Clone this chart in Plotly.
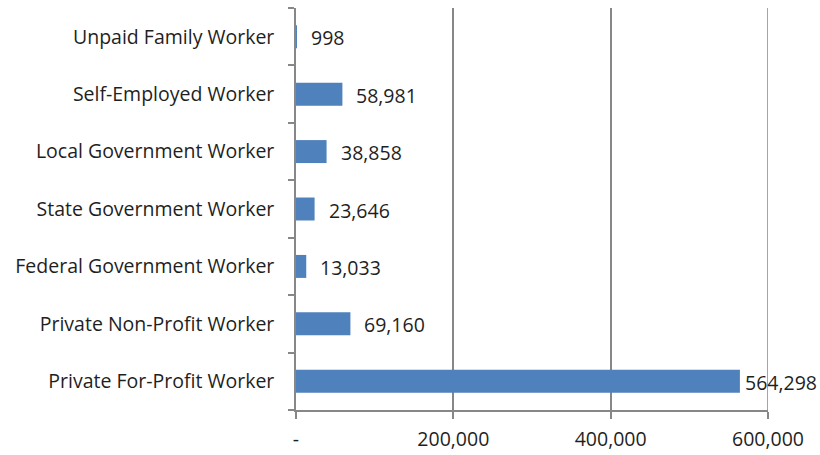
import plotly.graph_objects as go

categories = [
    "Private For-Profit Worker",
    "Private Non-Profit Worker",
    "Federal Government Worker",
    "State Government Worker",
    "Local Government Worker",
    "Self-Employed Worker",
    "Unpaid Family Worker",
]
values = [564298, 69160, 13033, 23646, 38858, 58981, 998]
x_tickvals = [0, 200000, 400000, 600000]
x_ticktext = ["-", "200,000", "400,000", "600,000"]

FONT = "Open Sans"
FS = 19.5
GRID = "#878787"
X_MAX = 600000

fig = go.Figure()
fig.add_trace(go.Bar(
    y=categories, x=values, orientation="h",
    marker=dict(color="#4F81BD", line=dict(width=0)),
    width=0.4,
    hoverinfo="skip",
))

for c, v in zip(categories, values):
    shift = 12 if v < 0.9 * X_MAX else 3
    fig.add_annotation(
        x=v, y=c, text=f"{v:,}", showarrow=False,
        xanchor="left", yanchor="middle", xshift=shift, yshift=-1,
        font=dict(family=FONT, size=FS, color="#1f1f1f"),
    )

# gridline at the right edge of the range
fig.add_shape(type="line", xref="x", yref="paper", x0=X_MAX, x1=X_MAX, y0=0, y1=1,
              line=dict(color=GRID, width=1.5), layer="below")

fig.update_layout(
    width=820, height=455,
    margin=dict(l=296, r=52, t=8, b=45, autoexpand=False),
    paper_bgcolor="white", plot_bgcolor="white",
    showlegend=False,
    font=dict(family=FONT, size=FS, color="#1f1f1f"),
    xaxis=dict(
        range=[0, X_MAX], tickvals=x_tickvals, ticktext=x_ticktext,
        showgrid=True, gridcolor=GRID, gridwidth=1.5,
        showline=True, linecolor=GRID, linewidth=1.5,
        ticks="outside", ticklen=7, tickcolor=GRID, tickwidth=1.5,
        ticklabelstandoff=4,
        zeroline=False, fixedrange=True, automargin=False,
    ),
    yaxis=dict(
        categoryorder="array", categoryarray=categories,
        showline=True, linecolor=GRID, linewidth=1.5,
        ticks="outside", ticklen=6, tickcolor=GRID, tickwidth=1.5,
        tickson="boundaries", showgrid=False,
        ticklabelstandoff=16, fixedrange=True, automargin=False,
    ),
)

fig.write_html(
    "out.html",
    config={"displayModeBar": False},
    post_script="document.body.style.margin='0';document.body.style.overflow='hidden';",
)
